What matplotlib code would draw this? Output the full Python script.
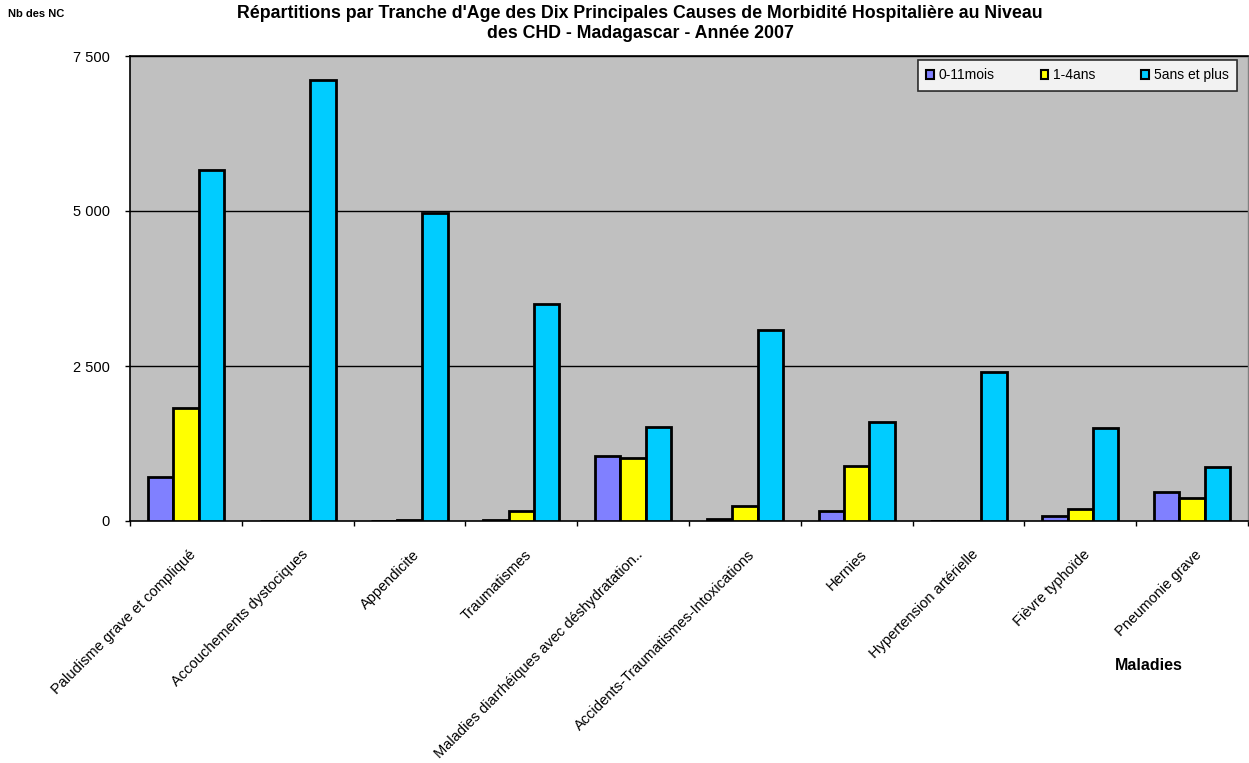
import matplotlib
matplotlib.use("Agg")
import matplotlib.pyplot as plt
import numpy as np
from matplotlib.ticker import FixedLocator, FuncFormatter

categories = ["Paludisme grave et compliqué", "Accouchements dystociques", "Appendicite",
              "Traumatismes", "Maladies diarrhéiques avec déshydratation..",
              "Accidents-Traumatismes-Intoxications", "Hernies", "Hypertension artérielle",
              "Fièvre typhoïde", "Pneumonie grave"]
series_names = ["0-11mois", "1-4ans", "5ans et plus"]
v_0_11mois = [710, 0, 0, 18, 1048, 30, 161, 0, 80, 473]
v_1_4ans = [1823, 0, 10, 161, 1021, 242, 887, 0, 194, 366]
v_5ans_plus = [5661, 7120, 4968, 3500, 1521, 3080, 1602, 2410, 1495, 876]
yticks = [0, 2500, 5000, 7500]

colors = ["#8080FF", "#FFFF00", "#00CCFF"]

plt.rcParams['font.family'] = ['Liberation Sans', 'DejaVu Sans']
fig = plt.figure(figsize=(12.49, 7.63), dpi=100)
ax = fig.add_axes([130/1249, 1-521/763, (1248-130)/1249, (521-56)/763])
ax.set_facecolor("#C0C0C0")

n = len(categories)
x = np.arange(n)
w = 0.227
for i, (vals, c, name) in enumerate(zip([v_0_11mois, v_1_4ans, v_5ans_plus], colors, series_names)):
    ax.bar(x + (i - 1) * w, vals, width=w, color=c, edgecolor="black", linewidth=2.0,
           label=name, zorder=3)

ax.set_xlim(-0.5, n - 0.5)
ax.set_ylim(0, 7500)
ax.yaxis.set_major_locator(FixedLocator(yticks))
ax.yaxis.set_major_formatter(FuncFormatter(lambda v, p: f"{int(v):,}".replace(",", " ")))
for yv in yticks[1:]:
    ax.axhline(yv, color="black", linewidth=1.0, zorder=1)

ax.set_xticks(np.arange(n + 1) - 0.5, minor=False)
ax.set_xticklabels([])
ax.set_xticks(x + 0.025, minor=True)
ax.set_xticklabels(categories, minor=True, rotation=45, ha="right", va="top",
                   rotation_mode="anchor", fontsize=10.5)
ax.tick_params(axis="x", which="minor", length=0, pad=19)
ax.tick_params(axis="x", which="major", length=3.6, width=1, direction="out")
ax.tick_params(axis="y", length=3.6, width=1, direction="out", labelsize=10.5, pad=10.8)

for s in ["left", "bottom", "top"]:
    ax.spines[s].set_color("black")
    ax.spines[s].set_linewidth(1.2)
ax.spines["right"].set_color("#808080")
ax.spines["right"].set_linewidth(1.0)

leg = ax.legend(loc="upper right", bbox_to_anchor=(1237/1249, 1-60/763), bbox_transform=fig.transFigure,
                ncol=3, fontsize=10, frameon=True, fancybox=False, edgecolor="black",
                handlelength=0.55, handleheight=0.55, handletextpad=0.35, columnspacing=3.3,
                borderpad=0.6, borderaxespad=0)
leg.get_frame().set_linewidth(1.2)
for h in leg.legend_handles:
    h.set_linewidth(1.5)

fig.text(640/1249, 1-14/763, "Répartitions par Tranche d'Age des Dix Principales Causes de Morbidité Hospitalière au Niveau",
         ha="center", va="center", fontsize=12.8, fontweight="bold")
fig.text(640/1249, 1-33/763, "des CHD - Madagascar - Année 2007",
         ha="center", va="center", fontsize=12.8, fontweight="bold")
fig.text(8/1249, 1-14/763, "Nb des NC", ha="left", va="center", fontsize=8, fontweight="bold")
fig.text(1149/1249, 1-666/763, "Maladies", ha="center", va="center", fontsize=11.5, fontweight="bold")

fig.savefig("out.png", dpi=100, facecolor="white")
